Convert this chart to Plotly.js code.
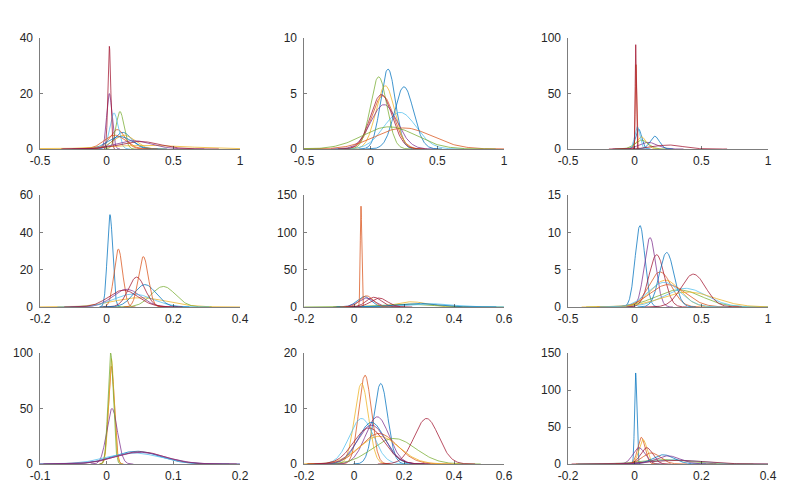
<!DOCTYPE html>
<html>
<head>
<meta charset="utf-8">
<script src="https://cdn.plot.ly/plotly-3.0.1.min.js"></script>
<style>
html,body{margin:0;padding:0;background:#fff;}
#chart{width:793px;height:491px;}
</style>
</head>
<body>
<div id="chart"></div>
<script>
// MATLAB default line colour order
const COLORS = ['#0072BD','#D95319','#EDB120','#7E2F8E','#77AC30','#4DBEEE','#A2142F'];

// ---- Panel 1 (row 1, col 1) : fitted normal densities, mean and peak height
const p1Mean = [0.12, 0.08, 0.13, 0.02, 0.10, 0.055, 0.02, 0.10, 0.06, 0.30, 0.20, 0.25];
const p1Peak = [6.0, 7.0, 5.0, 20.0, 13.5, 13.0, 37.0, 4.5, 5.0, 1.3, 3.0, 2.7];
const p1Color = [0, 1, 2, 3, 4, 5, 6, 0, 1, 2, 3, 6];
const p1XTicks = [-0.5, 0, 0.5, 1];
const p1XLabels = ['-0.5', '0', '0.5', '1'];
const p1YTicks = [0, 20, 40];

// ---- Panel 2 (row 1, col 2)
const p2Mean = [0.13, 0.09, 0.11, 0.10, 0.06, 0.22, 0.08, 0.25, 0.25, 0.14];
const p2Peak = [7.2, 4.8, 5.7, 4.0, 6.5, 3.3, 4.9, 5.6, 1.9, 2.0];
const p2Color = [0, 1, 2, 3, 4, 5, 6, 0, 1, 4];
const p2XTicks = [-0.5, 0, 0.5, 1];
const p2XLabels = ['-0.5', '0', '0.5', '1'];
const p2YTicks = [0, 5, 10];

// ---- Panel 3 (row 1, col 3)
const p3Mean = [0.03, 0.01, 0.05, 0.10, 0.05, 0.02, 0.008, 0.15, 0.25];
const p3Peak = [18, 76, 11, 6, 8, 20, 94, 11.5, 3.6];
const p3Color = [0, 1, 2, 3, 4, 5, 6, 0, 6];
const p3XTicks = [-0.5, 0, 0.5, 1];
const p3XLabels = ['-0.5', '0', '0.5', '1'];
const p3YTicks = [0, 50, 100];

// ---- Panel 4 (row 2, col 1)
const p4Mean = [0.01, 0.035, 0.10, 0.06, 0.17, 0.08, 0.09, 0.115, 0.11, 0.05];
const p4Peak = [49.5, 31, 5, 9.5, 11, 7, 16, 12, 27, 9];
const p4Color = [0, 1, 2, 3, 4, 5, 6, 0, 1, 6];
const p4XTicks = [-0.2, 0, 0.2, 0.4];
const p4XLabels = ['-0.2', '0', '0.2', '0.4'];
const p4YTicks = [0, 20, 40, 60];

// ---- Panel 5 (row 2, col 2)
const p5Mean = [0.04, 0.028, 0.23, 0.05, 0.20, 0.30, 0.08, 0.25, 0.05, 0.10];
const p5Peak = [14, 135, 7, 12, 4, 4.5, 13, 5, 15, 12];
const p5Color = [0, 1, 2, 3, 4, 5, 6, 0, 1, 6];
const p5XTicks = [-0.2, 0, 0.2, 0.4, 0.6];
const p5XLabels = ['-0.2', '0', '0.2', '0.4', '0.6'];
const p5YTicks = [0, 50, 100, 150];

// ---- Panel 6 (row 2, col 3)
const p6Mean = [0.04, 0.19, 0.23, 0.115, 0.33, 0.38, 0.165, 0.24, 0.25, 0.40, 0.44, 0.22];
const p6Peak = [10.9, 4.7, 3.6, 9.3, 2.3, 2.5, 7.0, 7.3, 3.0, 2.0, 4.4, 3.3];
const p6Color = [0, 1, 2, 3, 4, 5, 6, 0, 1, 2, 6, 5];
const p6XTicks = [-0.5, 0, 0.5, 1];
const p6XLabels = ['-0.5', '0', '0.5', '1'];
const p6YTicks = [0, 5, 10, 15];

// ---- Panel 7 (row 3, col 1)
const p7Mean = [0.045, 0.007, 0.007, 0.008, 0.006, 0.04, 0.05, 0.05];
const p7Peak = [11.5, 88, 95, 50, 100, 10, 11, 10.5];
const p7Color = [0, 1, 2, 3, 4, 5, 6, 3];
const p7XTicks = [-0.1, 0, 0.1, 0.2];
const p7XLabels = ['-0.1', '0', '0.1', '0.2'];
const p7YTicks = [0, 50, 100];

// ---- Panel 8 (row 3, col 2)
const p8Mean = [0.107, 0.044, 0.03, 0.093, 0.16, 0.03, 0.29, 0.07, 0.10, 0.10, 0.07, 0.06];
const p8Peak = [14.5, 16, 14.5, 8.5, 4.6, 8.2, 8.2, 7.5, 5.5, 5.0, 7.0, 6.5];
const p8Color = [0, 1, 2, 3, 4, 5, 6, 0, 1, 2, 3, 6];
const p8XTicks = [-0.2, 0, 0.2, 0.4, 0.6];
const p8XLabels = ['-0.2', '0', '0.2', '0.4', '0.6'];
const p8YTicks = [0, 10, 20];

// ---- Panel 9 (row 3, col 3)
const p9Mean = [0.003, 0.02, 0.025, 0.013, 0.09, 0.12, 0.036, 0.086, 0.05, 0.13, 0.10];
const p9Peak = [123, 36, 33, 22, 6, 5.5, 22, 12.5, 15, 5, 11];
const p9Color = [0, 1, 2, 3, 4, 5, 6, 0, 1, 6, 3];
const p9XTicks = [-0.2, 0, 0.2, 0.4];
const p9XLabels = ['-0.2', '0', '0.2', '0.4'];
const p9YTicks = [0, 50, 100, 150];

const panels = [
  {mean:p1Mean, peak:p1Peak, color:p1Color, xt:p1XTicks, xl:p1XLabels, yt:p1YTicks},
  {mean:p2Mean, peak:p2Peak, color:p2Color, xt:p2XTicks, xl:p2XLabels, yt:p2YTicks},
  {mean:p3Mean, peak:p3Peak, color:p3Color, xt:p3XTicks, xl:p3XLabels, yt:p3YTicks},
  {mean:p4Mean, peak:p4Peak, color:p4Color, xt:p4XTicks, xl:p4XLabels, yt:p4YTicks},
  {mean:p5Mean, peak:p5Peak, color:p5Color, xt:p5XTicks, xl:p5XLabels, yt:p5YTicks},
  {mean:p6Mean, peak:p6Peak, color:p6Color, xt:p6XTicks, xl:p6XLabels, yt:p6YTicks},
  {mean:p7Mean, peak:p7Peak, color:p7Color, xt:p7XTicks, xl:p7XLabels, yt:p7YTicks},
  {mean:p8Mean, peak:p8Peak, color:p8Color, xt:p8XTicks, xl:p8XLabels, yt:p8YTicks},
  {mean:p9Mean, peak:p9Peak, color:p9Color, xt:p9XTicks, xl:p9XLabels, yt:p9YTicks}
];

const W = 793, H = 491;
const colPx = [[40, 240], [304, 504], [568, 768]];
const rowPx = [[38, 149], [195, 307], [353, 464]];

const traces = [];
const layout = {
  width: W, height: H,
  margin: {l: 0, r: 0, t: 0, b: 0, pad: 0},
  paper_bgcolor: '#ffffff', plot_bgcolor: '#ffffff',
  showlegend: false,
  font: {family: 'Liberation Sans, Arial, sans-serif', size: 12, color: '#262626'}
};

const SQ2PI = Math.sqrt(2 * Math.PI);

panels.forEach((p, i) => {
  const r = Math.floor(i / 3), c = i % 3;
  const suf = i === 0 ? '' : String(i + 1);
  const xa = 'x' + suf, ya = 'y' + suf;
  p.mean.forEach((mu, k) => {
    const sd = 1 / (p.peak[k] * SQ2PI);
    const xs = [], ys = [];
    const n = 150;
    for (let j = 0; j <= n; j++) {
      const x = mu - 4 * sd + 8 * sd * j / n;
      xs.push(x);
      ys.push(Math.exp(-0.5 * ((x - mu) / sd) ** 2) / (sd * SQ2PI));
    }
    traces.push({
      type: 'scatter', mode: 'lines', x: xs, y: ys,
      xaxis: xa, yaxis: ya, hoverinfo: 'skip',
      line: {color: COLORS[p.color[k]], width: 0.75}
    });
  });
  const common = {
    showline: true, linecolor: '#262626', linewidth: 0.6,
    ticks: 'inside', ticklen: 3, tickcolor: '#262626', tickwidth: 0.6,
    showgrid: false, zeroline: false,
    tickfont: {family: 'Liberation Sans, Arial, sans-serif', size: 12, color: '#262626'},
    fixedrange: true
  };
  layout['xaxis' + suf] = Object.assign({}, common, {
    domain: [colPx[c][0] / W, colPx[c][1] / W],
    range: [p.xt[0], p.xt[p.xt.length - 1]],
    tickmode: 'array', tickvals: p.xt, ticktext: p.xl,
    anchor: ya, ticklabelstandoff: 1
  });
  layout['yaxis' + suf] = Object.assign({}, common, {
    domain: [1 - rowPx[r][1] / H, 1 - rowPx[r][0] / H],
    range: [p.yt[0], p.yt[p.yt.length - 1]],
    tickmode: 'array', tickvals: p.yt, ticktext: p.yt.map(String),
    anchor: xa, ticklabelstandoff: 4
  });
});

Plotly.newPlot('chart', traces, layout, {staticPlot: true, displayModeBar: false});
</script>
</body>
</html>
